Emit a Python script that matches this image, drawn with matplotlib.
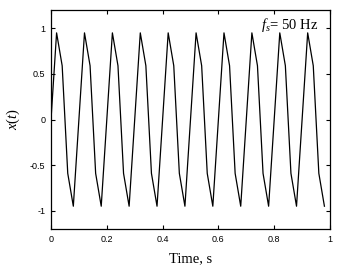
import matplotlib
matplotlib.use("Agg")
import matplotlib.pyplot as plt

plt.rcParams["mathtext.fontset"] = "custom"
plt.rcParams["mathtext.rm"] = "Liberation Serif"
plt.rcParams["mathtext.it"] = "Liberation Serif:italic"

t = [0.00, 0.02, 0.04, 0.06, 0.08, 0.10, 0.12, 0.14, 0.16, 0.18,
     0.20, 0.22, 0.24, 0.26, 0.28, 0.30, 0.32, 0.34, 0.36, 0.38,
     0.40, 0.42, 0.44, 0.46, 0.48, 0.50, 0.52, 0.54, 0.56, 0.58,
     0.60, 0.62, 0.64, 0.66, 0.68, 0.70, 0.72, 0.74, 0.76, 0.78,
     0.80, 0.82, 0.84, 0.86, 0.88, 0.90, 0.92, 0.94, 0.96, 0.98]
x = [0.00, 0.95, 0.59, -0.59, -0.95] * 10

xticks = [0, 0.2, 0.4, 0.6, 0.8, 1]
xticklabels = ["0", "0.2", "0.4", "0.6", "0.8", "1"]
yticks = [-1, -0.5, 0, 0.5, 1]
yticklabels = ["-1", "-0.5", "0", "0.5", "1"]

fig = plt.figure(figsize=(3.47, 2.72), dpi=100)
ax = fig.add_axes([0.147, 0.158, 0.804, 0.805])
ax.plot(t, x, color="black", linewidth=0.9)
ax.set_xlim(0, 1)
ax.set_ylim(-1.2, 1.2)
ax.set_xticks(xticks)
ax.set_xticklabels(xticklabels, fontfamily="Liberation Sans", fontsize=6.5)
ax.set_yticks(yticks)
ax.set_yticklabels(yticklabels, fontfamily="Liberation Sans", fontsize=6.5)
ax.tick_params(direction="in", top=True, right=True, length=3, width=0.8, pad=4)
for s in ax.spines.values():
    s.set_linewidth(0.9)
ax.set_xlabel("Time, s", fontfamily="Liberation Serif", fontsize=10.5, labelpad=6)
ax.set_ylabel(r"$x(t)$", fontsize=10.5, labelpad=6)
ax.text(0.958, 1.04, r"$f_s$" + "= 50 Hz", fontfamily="Liberation Serif",
        fontsize=10.5, ha="right", va="center")
fig.savefig("out.png", dpi=100)
